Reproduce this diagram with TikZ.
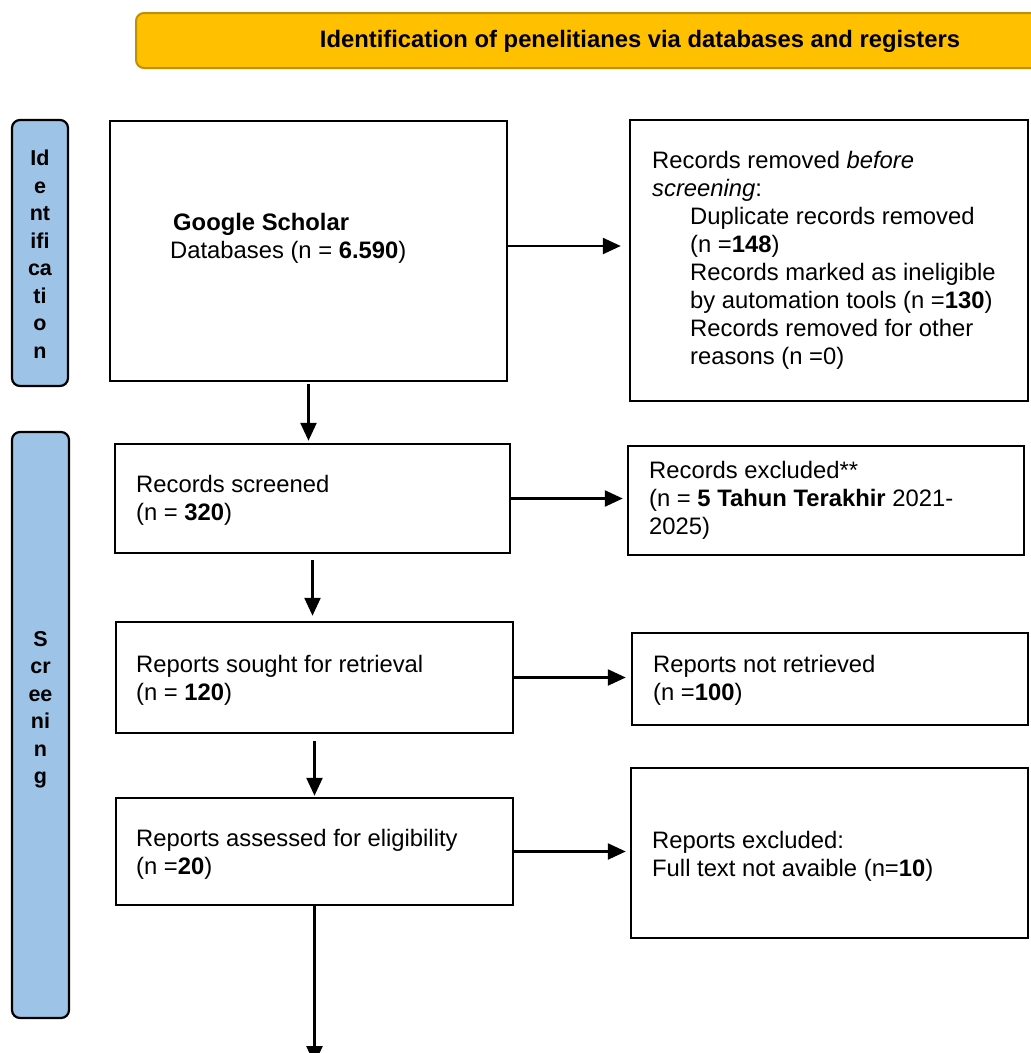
\documentclass[tikz,border=0pt]{standalone}
\usepackage{fontspec}
\setmainfont{Liberation Sans}
\usetikzlibrary{arrows.meta}
\definecolor{bannerfill}{HTML}{FFC000}
\definecolor{bannerline}{HTML}{BF9000}
\definecolor{phasefill}{HTML}{9DC3E6}
\begin{document}
\begin{tikzpicture}[x=1pt,y=-1pt,
  box/.style={draw=black, line width=2.5pt, inner sep=0pt, fill=white},
  phase/.style={draw=black, line width=2.2pt, rounded corners=8pt, fill=phasefill, inner sep=0pt},
  phasetxt/.style={align=center, inner sep=0pt, font=\fontsize{21.5}{27.5}\selectfont\bfseries},
  txt/.style={anchor=west, align=left, inner sep=0pt, font=\fontsize{23.8}{28}\selectfont},
  arr/.style={-{Triangle[length=18pt,width=16pt]}, line width=2.5pt}]
\fill[white] (0,0) rectangle (1031,1053);
\useasboundingbox (0,0) rectangle (1031,1053);

% banner
\node[draw=bannerline, line width=2pt, fill=bannerfill, rounded corners=8pt,
      minimum width=910pt, minimum height=55pt, inner sep=0pt] (banner) at (591,40.5) {};
\node[inner sep=0pt, font=\fontsize{23.8}{28}\selectfont\bfseries] (title) at (640,41)
  {Identification of penelitianes via databases and registers};

% phase labels
\node[phase, minimum width=56pt, minimum height=266pt] (idlab) at (40,253) {};
\node[phasetxt] (idtxt) at (40,254) {Id\\e\\nt\\ifi\\ca\\ti\\o\\n};
\node[phase, minimum width=57pt, minimum height=586pt] (scrlab) at (40.5,725) {};
\node[phasetxt] (scrtxt) at (40.5,710) {S\\cr\\ee\\ni\\n\\g};

% boxes
\node[box, minimum width=397pt, minimum height=260pt] (gs) at (308.5,251) {};
\node[txt] (gstxt) at (170,238) {\hspace*{3pt}\textbf{Google Scholar}\\Databases (n = \textbf{6.590})};

\node[box, minimum width=398pt, minimum height=281pt] (rem) at (829,260.5) {};
\node[txt] (remtxt) at (652,260) {Records removed \textit{before}\\\textit{screening}:\\
  \hspace*{38pt}Duplicate records removed\\
  \hspace*{38pt}(n =\textbf{148})\\
  \hspace*{38pt}Records marked as ineligible\\
  \hspace*{38pt}by automation tools (n =\textbf{130})\\
  \hspace*{38pt}Records removed for other\\
  \hspace*{38pt}reasons (n =0)};

\node[box, minimum width=395pt, minimum height=109pt] (scr) at (312.5,498.5) {};
\node[txt] (scrbtxt) at (136,500) {Records screened\\(n = \textbf{320})};

\node[box, minimum width=396pt, minimum height=109pt] (excl) at (826,500.5) {};
\node[txt] (excltxt) at (649,500) {Records excluded**\\(n = \textbf{5 Tahun Terakhir} 2021-\\2025)};

\node[box, minimum width=397pt, minimum height=111pt] (sought) at (314.5,677.5) {};
\node[txt] (soughttxt) at (136,680) {Reports sought for retrieval\\(n = \textbf{120})};

\node[box, minimum width=396pt, minimum height=92pt] (notret) at (830,679) {};
\node[txt] (notrettxt) at (653,680) {Reports not retrieved\\(n =\textbf{100})};

\node[box, minimum width=397pt, minimum height=107pt] (assess) at (314.5,851.5) {};
\node[txt] (assesstxt) at (136,854) {Reports assessed for eligibility\\(n =\textbf{20})};

\node[box, minimum width=397pt, minimum height=170pt] (repexcl) at (829.5,853) {};
\node[txt] (repexcltxt) at (652,856) {Reports excluded:\\Full text not avaible (n=\textbf{10})};

\coordinate (out) at (314.5,1064);

% connectors
\draw[arr, shorten >=8pt] ([yshift=5pt]gs.east) -- ([yshift=5pt]gs.east -| rem.west);
\draw[arr, shorten <=2pt, shorten >=2pt] (gs.south) -- (gs.south |- scr.north);
\draw[arr, shorten >=4pt] (scr.east) -- (scr.east -| excl.west);
\draw[arr, shorten <=6pt, shorten >=5pt] (scr.south) -- (scr.south |- sought.north);
\draw[arr, shorten >=5pt] (sought.east) -- (sought.east -| notret.west);
\draw[arr, shorten <=7pt, shorten >=1pt] (sought.south) -- (sought.south |- assess.north);
\draw[arr, shorten >=4pt] (assess.east) -- (assess.east -| repexcl.west);
\draw[arr] (assess.south) -- (out);
\end{tikzpicture}
\end{document}
